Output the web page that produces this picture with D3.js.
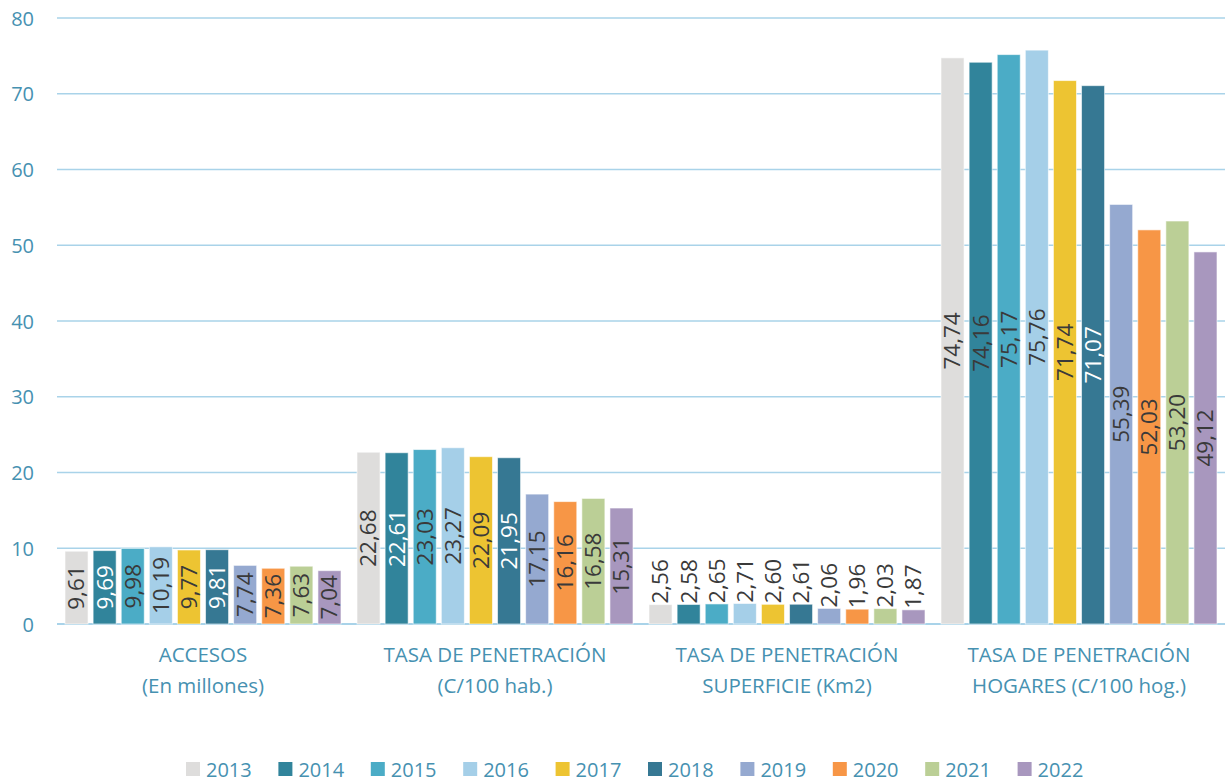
<!DOCTYPE html>
<html><head><meta charset="utf-8">
<script src="https://cdn.jsdelivr.net/npm/d3@7"></script>
<style>body{margin:0;background:#fff}svg{display:block}text{font-family:"Open Sans",sans-serif}</style>
</head><body><svg id="c" width="1225" height="781"></svg>
<script>
const categories = [["ACCESOS","(En millones)"],["TASA DE PENETRACIÓN","(C/100 hab.)"],["TASA DE PENETRACIÓN","SUPERFICIE (Km2)"],["TASA DE PENETRACIÓN","HOGARES (C/100 hog.)"]];
const years = ["2013","2014","2015","2016","2017","2018","2019","2020","2021","2022"];
const colors = ["#DEDDDC","#31849B","#4BACC6","#A5CFE8","#EDC432","#367893","#95A9D0","#F79646","#BBCF96","#A897BE"];
const values = [
  [9.61,9.69,9.98,10.19,9.77,9.81,7.74,7.36,7.63,7.04],
  [22.68,22.61,23.03,23.27,22.09,21.95,17.15,16.16,16.58,15.31],
  [2.56,2.58,2.65,2.71,2.60,2.61,2.06,1.96,2.03,1.87],
  [74.74,74.16,75.17,75.76,71.74,71.07,55.39,52.03,53.20,49.12]
];
const whiteLabels = [
  [false,true,false,false,false,true,false,false,false,false],
  [false,true,false,false,false,true,false,false,false,false],
  [false,false,false,false,false,false,false,false,false,false],
  [false,false,false,false,false,true,false,false,false,false]
];
const yTicks = [0,10,20,30,40,50,60,70,80];

(function(){
const svg = d3.select("#c");
const mLeft = 57, mRight = 1225, mTop = 18, mBottom = 624;
const y = d3.scaleLinear().domain([0,80]).range([mBottom, mTop]);
const x0 = d3.scaleBand().domain(d3.range(categories.length)).range([mLeft, mRight]);
const gw = x0.bandwidth();
const x1 = d3.scaleBand().domain(years).range([8, gw-8]).paddingInner(0.18);
const axisColor = "#4691B1";

svg.append("g").selectAll("line").data(yTicks).join("line")
  .attr("x1", mLeft).attr("x2", mRight)
  .attr("y1", d=>y(d)).attr("y2", d=>y(d))
  .attr("stroke", "#A9D3E9").attr("stroke-width", d=> d===0 ? 2 : 1.5);

const yAxis = svg.append("g").attr("transform", `translate(34,0)`)
  .call(d3.axisLeft(y).tickValues(yTicks).tickSize(0).tickPadding(0));
yAxis.select(".domain").remove();
yAxis.selectAll("text").attr("font-size", 20).attr("fill", axisColor)
  .attr("font-family", "Open Sans").attr("dy", "0.35em");

const groups = svg.append("g").selectAll("g").data(values).join("g")
  .attr("transform", (d,i)=>`translate(${x0(i)},0)`);
groups.selectAll("rect").data(d=>d).join("rect")
  .attr("x", (d,j)=>x1(years[j])).attr("width", x1.bandwidth())
  .attr("y", d=>y(d)).attr("height", d=>y(0)-y(d))
  .attr("fill", (d,j)=>colors[j])
  .attr("stroke", "rgba(255,255,255,0.6)").attr("stroke-width", 1);

const fmt = v => d3.format(".2f")(v).replace(".", ",");
const labelSize = 22.5;
groups.each(function(vals, gi){
  d3.select(this).selectAll("text.lbl").data(vals).join("text")
    .attr("class","lbl")
    .each(function(v, j){
      const cx = x1(years[j]) + x1.bandwidth()/2;
      const h = y(0) - y(v);
      const t = d3.select(this).text(fmt(v)).attr("font-size", labelSize);
      const len = fmt(v).length * 0.5 * labelSize;
      if (h > len + 4) {
        const cy = (y(v) + y(0)) / 2;
        t.attr("transform", `translate(${cx},${cy}) rotate(-90)`)
          .attr("text-anchor","middle").attr("dy","0.35em")
          .attr("fill", whiteLabels[gi][j] ? "#ffffff" : "#3a3a3a");
      } else {
        t.attr("transform", `translate(${cx},${y(v)-1}) rotate(-90)`)
          .attr("text-anchor","start").attr("dy","0.35em")
          .attr("fill", "#3a3a3a");
      }
    });
});

const cat = svg.append("g");
categories.forEach((lines, i) => {
  const cx = x0(i) + gw/2;
  lines.forEach((s, k) => {
    cat.append("text").attr("x", cx).attr("y", 662 + k*31)
      .attr("text-anchor","middle").attr("font-size", 20.5).attr("fill", axisColor).text(s);
  });
});

const leg = svg.append("g");
years.forEach((yr, j) => {
  const lx = 186 + j*92.4;
  leg.append("rect").attr("x", lx).attr("y", 762).attr("width", 14).attr("height", 14).attr("fill", colors[j]);
  leg.append("text").attr("x", lx + 20).attr("y", 776.5).attr("font-size", 20).attr("fill", axisColor).text(yr);
});
})();
</script></body></html>
